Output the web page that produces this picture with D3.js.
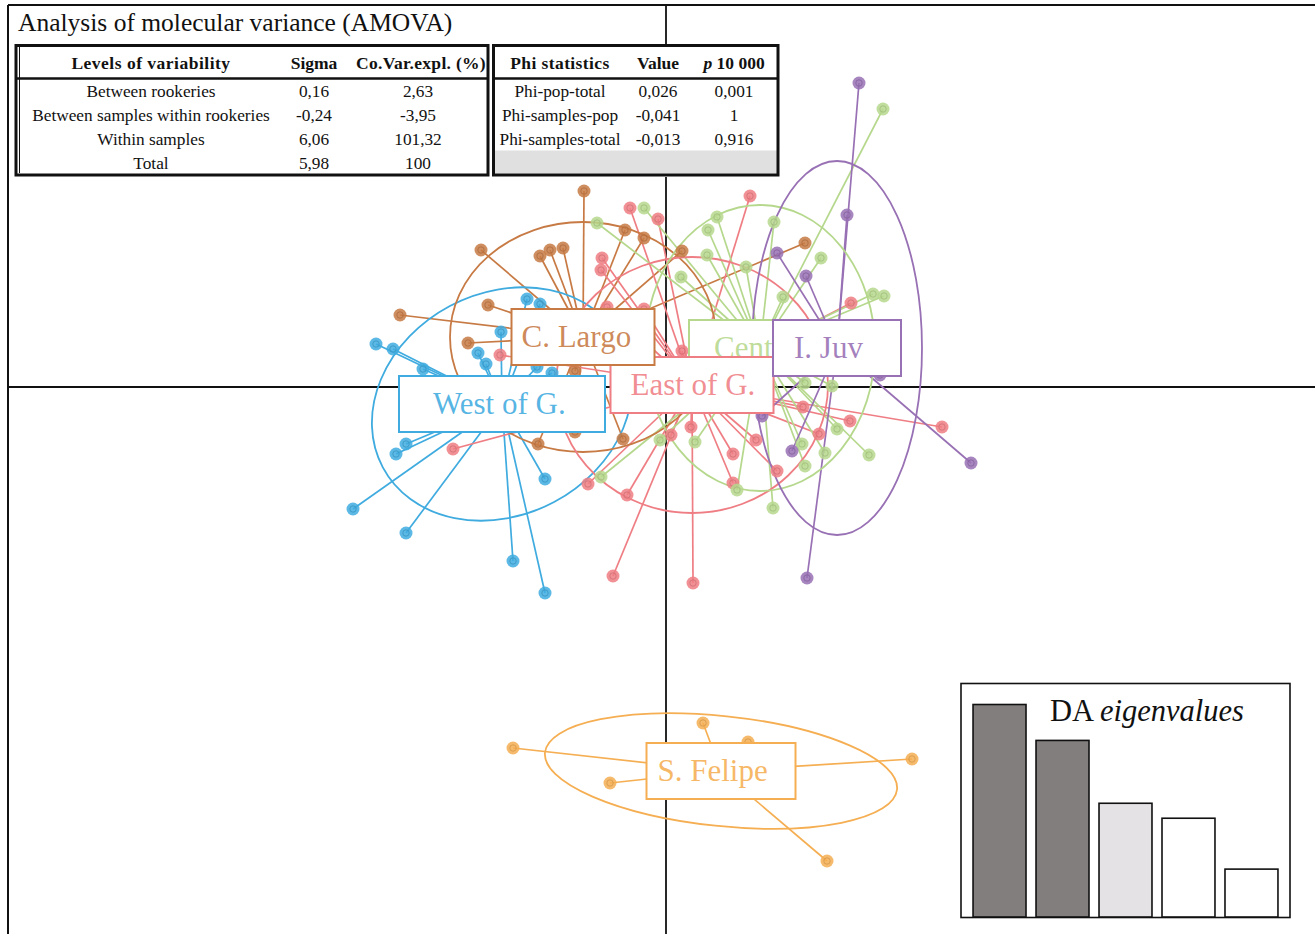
<!DOCTYPE html>
<html><head><meta charset="utf-8">
<script src="https://cdn.jsdelivr.net/npm/d3@7"></script>
<style>body{margin:0;background:#fff}svg{display:block}</style>
</head><body><svg id="c" width="1315" height="934"></svg>
<script>
// ---------------- DATA ----------------
const groups = ["West of G.", "C. Largo", "East of G.", "Central", "I. Juv", "S. Felipe"];
const groupColors = ["#3fabdf", "#c77a44", "#ef7e84", "#b6d88d", "#9870b4", "#f5ae52"];
// group centroids on the discriminant axes (LD1, LD2)
const centroids = [[-1.64, -0.17], [-0.83, 0.50], [0.26, 0.02], [0.94, 0.39], [1.71, 0.39], [0.55, -3.84]];
// inertia ellipses: [semi-axis 1, semi-axis 2, angle in degrees]
const ellipseAxes = [[1.35, 1.11, 28], [1.33, 1.15, 0], [1.36, 1.28, 0], [1.15, 1.43, 0], [0.85, 1.87, 0], [1.77, 0.55, -6]];

const westScores = [[-2.90,0.43],[-2.73,0.38],[-2.43,0.18],[-1.65,0.55],[-1.88,0.34],[-1.80,0.23],[-1.39,0.88],[-1.26,0.83],[-1.14,0.14],[-1.29,0.20],[-2.60,-0.57],[-2.70,-0.67],[-3.13,-1.22],[-2.60,-1.46],[-1.53,-1.74],[-1.21,-2.06],[-1.21,-0.92]];
const largoScores = [[-0.82,1.96],[-1.85,1.37],[-1.26,1.31],[-1.16,1.37],[-1.03,1.39],[-1.78,0.82],[-1.98,0.44],[-2.66,0.72],[-0.41,1.57],[-0.22,1.49],[0.16,1.36],[1.39,1.44],[-1.28,-0.57],[-0.43,-0.52],[-0.91,0.16],[-0.91,-0.45]];
const eastScores = [[-0.36,1.79],[-0.08,1.68],[0.84,1.91],[-0.64,1.29],[-0.65,1.17],[-0.59,0.80],[-0.22,0.78],[0.16,0.36],[-1.66,0.32],[1.85,0.84],[1.37,-0.20],[1.84,-0.34],[2.76,-0.40],[1.53,-0.47],[0.25,-0.40],[0.67,-0.67],[0.90,-0.53],[1.11,-0.84],[0.67,-0.96],[0.27,-1.96],[-0.78,-0.97],[-0.39,-1.08],[-0.53,-1.89],[0.05,-0.48],[-2.13,-0.62]];
const centralScores = [[2.17,2.78],[0.51,1.70],[0.42,1.57],[1.08,1.65],[0.41,1.32],[0.80,1.20],[0.15,1.10],[1.55,1.29],[1.17,0.90],[2.07,0.93],[2.18,0.91],[-0.69,1.64],[-0.22,1.79],[1.39,0.04],[1.66,0.01],[1.71,-0.42],[1.36,-0.57],[1.59,-0.66],[2.03,-0.68],[1.39,-0.79],[0.71,-1.03],[1.07,-1.21],[0.29,-0.55],[-0.65,-0.90],[-0.06,-0.53]];
const juvScores = [[1.93,3.04],[1.81,1.72],[1.11,1.34],[1.40,1.11],[2.14,0.12],[3.05,-0.76],[1.26,-0.64],[0.96,-0.29],[1.41,-1.91]];
const felipeScores = [[-1.53,-3.61],[0.37,-3.36],[0.82,-3.55],[-0.56,-3.96],[2.46,-3.72],[1.61,-4.74]];
const groupScores = [westScores, largoScores, eastScores, centralScores, juvScores, felipeScores];

const eigenvalues = [21.3, 17.7, 11.4, 9.9, 4.8];
const eigenFills = ["#827e7e", "#827e7e", "#e4e2e4", "#ffffff", "#ffffff"];

const amovaHeader = ["Levels of variability", "Sigma", "Co.Var.expl. (%)"];
const amovaLevels = ["Between rookeries", "Between samples within rookeries", "Within samples", "Total"];
const amovaSigma = ["0,16", "-0,24", "6,06", "5,98"];
const amovaCovar = ["2,63", "-3,95", "101,32", "100"];
const phiHeader = ["Phi statistics", "Value", "10 000"];
const phiNames = ["Phi-pop-total", "Phi-samples-pop", "Phi-samples-total"];
const phiValues = ["0,026", "-0,041", "-0,013"];
const phiP = ["0,001", "1", "0,916"];

// ---------------- LAYOUT ----------------
const serif = "'Liberation Serif','Times New Roman',serif";
const svg = d3.select("#c");
const x = d3.scaleLinear().domain([-6.58, 6.49]).range([8, 1315]);
const y = d3.scaleLinear().domain([3.82, -5.47]).range([5, 934]);

// label boxes (style): width, height, text left pad ; drawing order
const boxStyle = [
  {w:206, h:56, pad:34}, {w:143, h:56, pad:10}, {w:163, h:56, pad:20},
  {w:142, h:56, pad:25}, {w:128, h:56, pad:21}, {w:149, h:56, pad:11}
];
const labelOrder = [3, 2, 4, 1, 0, 5];

// frame + axes
svg.append("line").attr("x1", 8).attr("x2", 1315).attr("y1", 5).attr("y2", 5).attr("stroke", "#111").attr("stroke-width", 2);
svg.append("line").attr("x1", 8).attr("x2", 8).attr("y1", 5).attr("y2", 934).attr("stroke", "#111").attr("stroke-width", 2);
svg.append("line").attr("x1", x(0)).attr("x2", x(0)).attr("y1", 5).attr("y2", 934).attr("stroke", "#111").attr("stroke-width", 1.8);
svg.append("line").attr("x1", 8).attr("x2", 1315).attr("y1", y(0)).attr("y2", y(0)).attr("stroke", "#111").attr("stroke-width", 1.8);

// star lines
const gLines = svg.append("g");
groupScores.forEach((pts, gi) => {
  const c = centroids[gi];
  gLines.selectAll(null).data(pts).enter().append("line")
    .attr("x1", x(c[0])).attr("y1", y(c[1]))
    .attr("x2", d => x(d[0])).attr("y2", d => y(d[1]))
    .attr("stroke", groupColors[gi]).attr("stroke-width", 1.7);
});

// ellipses
const gEll = svg.append("g");
ellipseAxes.forEach((e, gi) => {
  const c = centroids[gi];
  gEll.append("ellipse")
    .attr("transform", `translate(${x(c[0])},${y(c[1])}) rotate(${-e[2]})`)
    .attr("rx", x(e[0]) - x(0)).attr("ry", y(0) - y(e[1]))
    .attr("fill", "none").attr("stroke", groupColors[gi]).attr("stroke-width", 1.8);
});

// points
const gPts = svg.append("g");
groupScores.forEach((pts, gi) => {
  const sel = gPts.selectAll(null).data(pts).enter();
  sel.append("circle").attr("cx", d => x(d[0])).attr("cy", d => y(d[1])).attr("r", 6.5)
    .attr("fill", groupColors[gi]).attr("fill-opacity", 0.85);
  sel.append("circle").attr("cx", d => x(d[0])).attr("cy", d => y(d[1])).attr("r", 3.2)
    .attr("fill", "none").attr("stroke", d3.color(groupColors[gi]).darker(0.4)).attr("stroke-width", 0.8);
});

// labels
const defs = svg.append("defs");
const gLab = svg.append("g");
labelOrder.forEach(gi => {
  const c = centroids[gi], s = boxStyle[gi];
  const bx = x(c[0]) - s.w / 2, by = y(c[1]) - s.h / 2;
  gLab.append("rect").attr("x", bx).attr("y", by).attr("width", s.w).attr("height", s.h)
    .attr("fill", "#fff").attr("stroke", groupColors[gi]).attr("stroke-width", 2);
  const t = gLab.append("text").attr("x", bx + s.pad).attr("y", by + 38)
    .attr("font-family", serif).attr("font-size", 31)
    .attr("fill", groupColors[gi]).attr("fill-opacity", 0.88).text(groups[gi]);
  // the Central label is partly hidden behind the I. Juv box: clip it to its visible part
  if (gi === 3) {
    const jc = centroids[4], js = boxStyle[4];
    const visW = x(jc[0]) - js.w / 2 - bx - 1;
    defs.append("clipPath").attr("id", "clipCentral").append("rect")
      .attr("x", bx).attr("y", by).attr("width", visW).attr("height", s.h);
    t.attr("clip-path", "url(#clipCentral)").attr("textLength", null);
  }
});

// ---------------- AMOVA TABLE ----------------
svg.append("text").attr("x", 18).attr("y", 31).attr("font-family", serif).attr("font-size", 25.5)
  .attr("fill", "#111").text("Analysis of molecular variance (AMOVA)");

const tb = svg.append("g").attr("font-family", serif).attr("fill", "#111");
tb.append("rect").attr("x", 14).attr("y", 44).attr("width", 766).attr("height", 133).attr("fill", "#fff");
tb.append("rect").attr("x", 495).attr("y", 150.5).attr("width", 282).attr("height", 23).attr("fill", "#e1e0e1");
tb.append("rect").attr("x", 16).attr("y", 45.5).attr("width", 472).attr("height", 129.5)
  .attr("fill", "none").attr("stroke", "#111").attr("stroke-width", 3);
tb.append("line").attr("x1", 19.5).attr("x2", 19.5).attr("y1", 47).attr("y2", 173).attr("stroke", "#111").attr("stroke-width", 1);
tb.append("rect").attr("x", 493.5).attr("y", 45.5).attr("width", 284.5).attr("height", 129.5)
  .attr("fill", "none").attr("stroke", "#111").attr("stroke-width", 3);
tb.append("line").attr("x1", 16).attr("x2", 488).attr("y1", 78.5).attr("y2", 78.5).attr("stroke", "#111").attr("stroke-width", 2.5);
tb.append("line").attr("x1", 493.5).attr("x2", 778).attr("y1", 78.5).attr("y2", 78.5).attr("stroke", "#111").attr("stroke-width", 2.5);

const leftCols = [151, 314, 418];
const rightCols = [560, 658, 734];
const rowY = [97, 121, 145, 169];
amovaHeader.forEach((h, i) => {
  tb.append("text").attr("x", i === 2 ? 421 : leftCols[i]).attr("y", 69).attr("text-anchor", "middle")
    .attr("font-size", 17.5).attr("font-weight", "bold").attr("letter-spacing", i === 0 ? 0.5 : (i === 2 ? 0.3 : 0)).text(h);
});
phiHeader.forEach((h, i) => {
  const t = tb.append("text").attr("x", rightCols[i]).attr("y", 69).attr("text-anchor", "middle")
    .attr("font-size", 17.5).attr("font-weight", "bold").attr("letter-spacing", i === 0 ? 0.4 : 0);
  if (i === 2) {
    t.append("tspan").attr("font-style", "italic").text("p");
    t.append("tspan").text(" " + h);
  } else t.text(h);
});
[amovaLevels, amovaSigma, amovaCovar].forEach((col, ci) => {
  col.forEach((v, ri) => {
    tb.append("text").attr("x", leftCols[ci]).attr("y", rowY[ri]).attr("text-anchor", "middle")
      .attr("font-size", 17.3).text(v);
  });
});
[phiNames, phiValues, phiP].forEach((col, ci) => {
  col.forEach((v, ri) => {
    tb.append("text").attr("x", rightCols[ci]).attr("y", rowY[ri]).attr("text-anchor", "middle")
      .attr("font-size", 17.3).text(v);
  });
});

// ---------------- EIGENVALUE INSET ----------------
const eg = svg.append("g");
eg.append("rect").attr("x", 961).attr("y", 683.5).attr("width", 329).attr("height", 234)
  .attr("fill", "#fff").attr("stroke", "#111").attr("stroke-width", 1.6);
const ex = d3.scaleBand().domain(d3.range(eigenvalues.length)).range([968, 1283]).paddingInner(0.159).paddingOuter(0.08);
const ey = d3.scaleLinear().domain([0, d3.max(eigenvalues)]).range([917, 704.5]);
eg.selectAll(null).data(eigenvalues).enter().append("rect")
  .attr("x", (d, i) => ex(i)).attr("width", ex.bandwidth())
  .attr("y", d => ey(d)).attr("height", d => ey(0) - ey(d))
  .attr("fill", (d, i) => eigenFills[i]).attr("stroke", "#111").attr("stroke-width", 1.6);
const et = eg.append("text").attr("x", 1050).attr("y", 721).attr("font-family", serif).attr("font-size", 30.5).attr("fill", "#111");
et.append("tspan").text("DA ");
et.append("tspan").attr("font-style", "italic").text("eigenvalues");
</script></body></html>
